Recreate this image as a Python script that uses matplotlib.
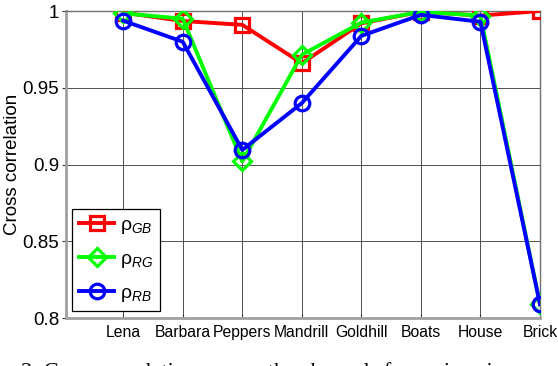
import matplotlib
matplotlib.use("Agg")
import matplotlib.pyplot as plt

categories = ["Lena", "Barbara", "Peppers", "Mandrill", "Goldhill", "Boats", "House", "Brick"]
rho_gb = [0.999, 0.9935, 0.991, 0.966, 0.992, 0.9995, 0.997, 1.0]
rho_rg = [0.9985, 0.995, 0.902, 0.9715, 0.9925, 0.9995, 0.997, 0.809]
rho_rb = [0.9937, 0.980, 0.9095, 0.940, 0.9838, 0.9975, 0.993, 0.809]
yticks = [0.8, 0.85, 0.9, 0.95, 1.0]
ytick_labels = ["0.8", "0.85", "0.9", "0.95", "1"]
ylabel = "Cross correlation"
labels = [r"$\mathrm{\rho}_{GB}$", r"$\mathrm{\rho}_{RG}$", r"$\mathrm{\rho}_{RB}$"]
caption = "2: Cross correlation among the channels for various images"

plt.rcParams["font.family"] = ["Liberation Sans", "DejaVu Sans"]
plt.rcParams["mathtext.fontset"] = "custom"
plt.rcParams["mathtext.rm"] = "Liberation Sans"
plt.rcParams["mathtext.it"] = "Liberation Sans:italic"

fig = plt.figure(figsize=(5.58, 3.66), dpi=100)
ax = fig.add_axes([0.1183, 0.1311, 0.8494, 0.8388])

x = list(range(1, len(categories) + 1))
ax.plot(x, rho_gb, color="#ff0000", lw=2.8, marker="s", ms=10.5, mfc="none", mew=2.3, label=labels[0], zorder=3)
ax.plot(x, rho_rg, color="#00ff00", lw=2.8, marker="D", ms=9.5, mfc="none", mew=2.3, label=labels[1], zorder=4)
ax.plot(x, rho_rb, color="#0000ff", lw=2.8, marker="o", ms=10.5, mfc="none", mew=2.3, label=labels[2], zorder=5)

ax.set_xlim(0.04, 8)
ax.set_ylim(0.8, 1.0)
ax.set_xticks(x)
ax.set_xticklabels(categories, fontsize=11.3)
ax.set_yticks(yticks)
ax.set_yticklabels(ytick_labels, fontsize=13.5)
ax.set_ylabel(ylabel, fontsize=13.5, labelpad=1)

ax.grid(True, color="#505050", lw=0.7)
ax.set_axisbelow(True)
ax.tick_params(axis="y", direction="out", length=3, width=0.8, color="#333333", pad=2)
ax.tick_params(axis="x", direction="in", length=3, width=0.8, color="#333333", pad=5)
for s in ["left", "bottom"]:
    ax.spines[s].set_color("#a0a0a0")
    ax.spines[s].set_linewidth(2.0)
for s in ["top", "right"]:
    ax.spines[s].set_color("#707070")
    ax.spines[s].set_linewidth(1.0)

leg = ax.legend(loc="lower left", bbox_to_anchor=(0.005, 0.01), fontsize=14,
                fancybox=False, framealpha=1, edgecolor="black", handlelength=1.8,
                handletextpad=0.3, labelspacing=0.75, borderpad=0.35, borderaxespad=0.2)
leg.get_frame().set_linewidth(0.9)

fig.text(0.038, (366 - 377) / 366, caption, fontsize=16, family="Liberation Serif",
         va="baseline", ha="left")

fig.savefig("out.png", dpi=100)
